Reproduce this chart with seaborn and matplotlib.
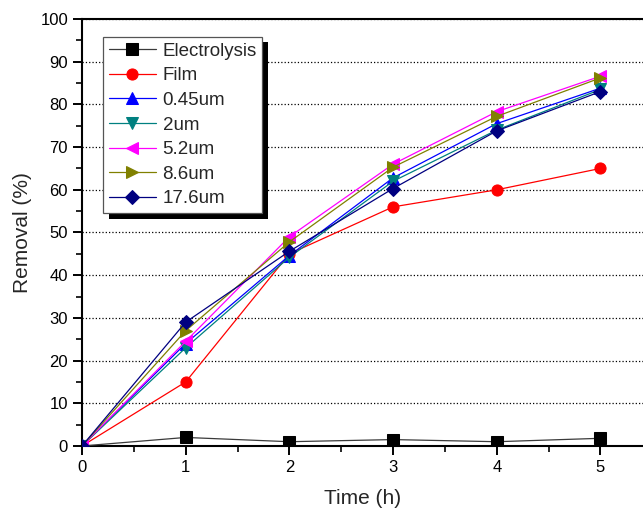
import numpy as np
import pandas as pd
import matplotlib
matplotlib.use("Agg")
import matplotlib.pyplot as plt
import matplotlib.patheffects as pe
from matplotlib.ticker import MultipleLocator
import seaborn as sns

# =========================
# DATA
# =========================
time_h = [0, 1, 2, 3, 4, 5]
electrolysis = [0, 2.0, 1.0, 1.5, 1.0, 1.8]
film = [0, 15.0, 45.0, 56.0, 60.0, 65.0]
um_045 = [0, 24.0, 44.6, 62.8, 75.5, 83.8]
um_2 = [0, 23.0, 44.2, 62.0, 74.0, 83.5]
um_52 = [0, 24.5, 49.0, 66.0, 78.3, 86.6]
um_86 = [0, 27.0, 47.8, 65.3, 77.2, 86.2]
um_176 = [0, 29.0, 45.6, 60.3, 73.8, 83.0]

series = [
    ("Electrolysis", electrolysis, "#3a3a3a", "black", "s"),
    ("Film", film, "red", "red", "o"),
    ("0.45um", um_045, "blue", "blue", "^"),
    ("2um", um_2, "#008080", "#008080", "v"),
    ("5.2um", um_52, "magenta", "magenta", "<"),
    ("8.6um", um_86, "#808000", "#808000", ">"),
    ("17.6um", um_176, "#000080", "#000080", "D"),
]

# =========================
# STYLE
# =========================
sns.set_style("ticks")
plt.rcParams["font.family"] = ["Liberation Sans", "DejaVu Sans"]

fig = plt.figure(figsize=(6.43, 5.09), dpi=100)
ax = fig.add_axes([0.1275, 0.1238, 0.8725, 0.8389])

for name, vals, lcol, mcol, mk in series:
    df = pd.DataFrame({"Time": time_h, "Removal": vals})
    sns.lineplot(data=df, x="Time", y="Removal", ax=ax, color=lcol,
                 marker=mk, markersize=8 if mk != "D" else 7,
                 markerfacecolor=mcol, markeredgecolor=mcol,
                 linewidth=0.9, label=name, zorder=3)

ax.set_xlim(0, 5.41)
ax.set_ylim(0, 100)
ax.xaxis.set_major_locator(MultipleLocator(1))
ax.xaxis.set_minor_locator(MultipleLocator(0.5))
ax.yaxis.set_major_locator(MultipleLocator(10))
ax.yaxis.set_minor_locator(MultipleLocator(5))
ax.tick_params(which="major", direction="out", length=6.5, width=1.4,
               labelsize=12, colors="black", pad=3.5)
ax.tick_params(which="minor", direction="out", length=4.3, width=1.4)
ax.tick_params(which="both", top=False, right=False)

ax.set_xlabel("Time (h)", fontsize=15, labelpad=10)
ax.set_ylabel("Removal (%)", fontsize=15, labelpad=6)

for s in ["left", "bottom", "top"]:
    ax.spines[s].set_linewidth(1.5)
    ax.spines[s].set_color("black")
ax.spines["right"].set_visible(False)

ax.yaxis.grid(True, linestyle=":", color="black", linewidth=0.9)
ax.set_axisbelow(True)

leg = ax.legend(loc="upper left", bbox_to_anchor=(0.038, 0.958),
                borderaxespad=0, fontsize=13.5, frameon=True, fancybox=False,
                handlelength=2.5, labelspacing=0.4, handletextpad=0.36,
                borderpad=0.3, framealpha=1)
frame = leg.get_frame()
frame.set_edgecolor("#555555")
frame.set_linewidth(0.9)
frame.set_path_effects([
    pe.SimplePatchShadow(offset=(4, -4), shadow_rgbFace="black", alpha=1),
    pe.Normal(),
])

fig.savefig("out.png", dpi=100)
